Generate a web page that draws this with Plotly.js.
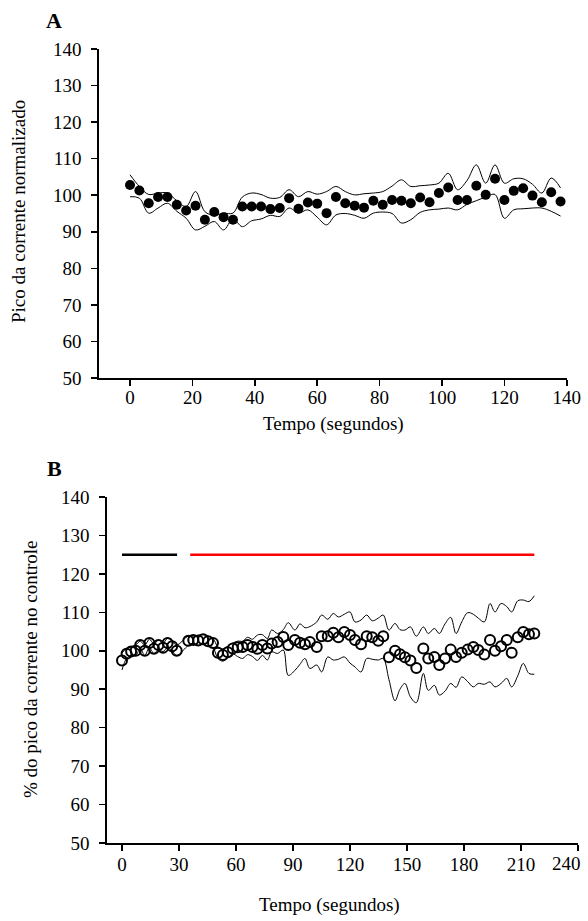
<!DOCTYPE html>
<html>
<head>
<meta charset="utf-8">
<script src="https://cdn.plot.ly/plotly-3.0.1.min.js"></script>
<style>html,body{margin:0;padding:0;background:#fff}#chart{width:588px;height:921px}</style>
</head>
<body>
<div id="chart"></div>
<script>
// ---------- Panel A data ----------
const timeA = [0,3,6,9,12,15,18,21,24,27,30,33,36,39,42,45,48,51,54,57,60,63,66,69,72,75,78,81,84,87,90,93,96,99,102,105,108,111,114,117,120,123,126,129,132,135,138];
const meanA = [102.8,101.3,97.8,99.5,99.5,97.4,95.8,97.1,93.3,95.4,94.0,93.3,96.9,96.9,96.9,96.2,96.5,99.2,96.3,98.0,97.7,95.1,99.5,97.8,97.1,96.6,98.5,97.4,98.7,98.5,97.8,99.4,98.1,100.6,102.1,98.7,98.7,102.6,100.1,104.5,98.7,101.2,101.9,99.9,98.1,100.8,98.3];
const upperA = [105.6,102.4,100.2,100.6,100.6,98.5,96.9,101,95.5,94.5,95.1,95.1,99.5,100.6,100.2,99.2,99.4,101.5,99.6,101,100.3,101,102.4,101,100.1,100.4,100.6,101,102.5,104.2,102.4,102.6,102.8,103.3,106,101.5,104,108.3,103.3,108.3,103.3,104.5,104.5,103,100.6,104.7,102];
const lowerA = [99.6,99.2,95.1,96.5,97.8,95.6,93.7,90.5,91.5,92.8,90.5,93.5,91.4,93,93.5,94.5,94.2,96.5,95.1,96,94,91.9,94.6,95,94.5,93.7,95.1,95.4,95,92.4,93.3,95.3,96,96.2,96.5,96,97.5,98.5,99.5,100.2,93.7,96,96.3,96.5,96.5,95.6,94.3];

// ---------- Panel B data ----------
const timeB = [0,2.4,4.8,7.2,9.6,12,14.4,16.8,19.2,21.6,24,26.4,28.8,
  34.9,37.5,40.1,42.7,45.3,47.9,50.5,53.1,55.7,58.3,60.9,63.5,66.1,68.7,71.3,73.9,76.5,
  78.8,81.9,84.9,87.5,91,93.7,96.3,98.9,102.5,105.1,108.3,111.2,113.9,117,120,122.6,125.8,128.8,131.7,134.9,137.5,
  140.5,143.7,146.3,148.9,151.8,154.9,158.6,161.2,164.4,167,170,173,175.8,178.8,181.9,184.9,187.5,190.7,193.7,196.3,199.5,202.5,205.1,208.3,211.2,214.2,217];
const meanB = [97.5,99.2,99.8,100,101.5,100,102,100.5,101.5,100.8,102,101.2,100,
  102.6,102.8,102.7,103.0,102.5,102.0,99.5,98.9,99.6,100.6,100.9,101.0,101.5,101.0,100.5,101.5,100.6,
  101.9,102.3,103.6,101.5,102.8,102.1,101.7,102.3,101,103.8,103.8,104.7,103.5,104.9,104.1,102.8,101.7,103.8,103.5,102.6,103.8,
  98.3,100,99.1,98.3,97.5,95.5,100.6,98,98.4,96.3,98,100.3,98.4,99.5,100.3,101,100.2,99,102.8,100,101.2,102.8,99.5,103.5,104.9,104.3,104.5];
const upperB = [99.5,100.5,101,101.5,102.5,101.5,103,101.8,102.8,102,103.2,102.5,101.5,
  103.8,103.6,104,104.2,103.8,103.2,101,100.5,101.2,102,102.5,102.5,103.5,103,104.1,104.2,103.2,
  105.4,104.5,105.5,107.3,105.4,107,106,106.3,107.5,109.3,108.2,109.7,108.8,109.5,110.1,107.5,108,109.3,107.8,108.5,109.3,
  105.4,107.1,105.5,105.4,106.2,103.8,106.2,104.5,105.8,104.5,107,108.7,104.5,107.5,109.9,109.5,108.5,107.5,112.3,110.1,112.3,111.5,110.1,113,113.2,112.8,114.3];
const lowerB = [95,98,98.8,98.8,100.5,98.8,100.8,99.3,100.3,99.8,100.8,100,98.8,
  101.4,102,101.4,101.8,101.2,100.8,98,97.3,98.2,99.2,98.5,98,99,98.5,97.5,98.8,97.6,
  99.7,99.3,100.2,93.6,94.9,96.5,98,95.4,96.3,94.5,98.4,97.6,97.8,98.4,96.8,95.8,94.5,98,97.8,97.6,98,
  92.5,87,90,91.5,88,86.5,94.1,89.7,91,88.5,89.5,91.5,90.5,93.2,92,90.6,91.5,91.3,91.9,90.6,91.5,92.8,90.6,93.5,96.7,94.1,93.9];
// Treatment period bars (time span, level)
const controlBarT = [0, 29];
const drugBarT = [35.9, 217];
const barLevel = 125;

const ticksA = [0,20,40,60,80,100,120,140];
const ticksB = [0,30,60,90,120,150,180,210,240];
const tickTextB = ['0','30','60','90','120','150','180','210',''];
const lastTickLabelB = '240';
const ticksY = [50,60,70,80,90,100,110,120,130,140];

const W = 588, H = 921;
const FONT = "Liberation Serif, Times New Roman, serif";
const TICK_SIZE = 19, TITLE_SIZE = 19;

function env(x, y, xa, ya) {
  return {x: x, y: y, xaxis: xa, yaxis: ya, type: 'scatter', mode: 'lines',
    line: {color: '#000', width: 1, shape: 'spline', smoothing: 1}, hoverinfo: 'skip', showlegend: false};
}

const traces = [
  env(timeA, upperA, 'x', 'y'),
  env(timeA, lowerA, 'x', 'y'),
  {x: timeA, y: meanA, xaxis: 'x', yaxis: 'y', type: 'scatter', mode: 'markers',
   marker: {symbol: 'circle', size: 10, color: '#000'}, showlegend: false},
  env(timeB, upperB, 'x2', 'y2'),
  env(timeB, lowerB, 'x2', 'y2'),
  {x: timeB, y: meanB, xaxis: 'x2', yaxis: 'y2', type: 'scatter', mode: 'markers',
   marker: {symbol: 'circle-open', size: 10, color: '#000', line: {width: 2, color: '#000'}}, showlegend: false},
  {x: controlBarT, y: [barLevel, barLevel], xaxis: 'x2', yaxis: 'y2', type: 'scatter', mode: 'lines',
   line: {color: '#000', width: 2.5}, showlegend: false},
  {x: drugBarT, y: [barLevel, barLevel], xaxis: 'x2', yaxis: 'y2', type: 'scatter', mode: 'lines',
   line: {color: '#ff0000', width: 2.5}, showlegend: false}
];

function axisCommon() {
  return {showline: true, linecolor: '#000', linewidth: 1.5, ticks: 'outside', ticklen: 6,
    tickwidth: 1.5, tickcolor: '#000', showgrid: false, zeroline: false, mirror: false,
    tickfont: {family: FONT, size: TICK_SIZE, color: '#000'}, fixedrange: true};
}

const xA = Object.assign(axisCommon(), {domain: [98.8/W, 566.8/W], range: [-10, 140],
  tickvals: ticksA, anchor: 'y', ticklabelstandoff: -4});
const yA = Object.assign(axisCommon(), {domain: [(H-378)/H, (H-49)/H], range: [50, 140],
  tickvals: ticksY, anchor: 'x', ticklabelstandoff: 6});
const xB = Object.assign(axisCommon(), {domain: [106.8/W, 578/W], range: [-8, 240],
  tickvals: ticksB, ticktext: tickTextB, anchor: 'y2', ticklabelstandoff: -2});
const yB = Object.assign(axisCommon(), {domain: [(H-843)/H, (H-497)/H], range: [50, 140],
  tickvals: ticksY, anchor: 'x2', ticklabelstandoff: 6});

function ann(text, px, py, opts) {
  return Object.assign({text: text, xref: 'paper', yref: 'paper', x: px/W, y: 1 - py/H,
    xanchor: 'center', yanchor: 'middle', showarrow: false,
    font: {family: FONT, size: TITLE_SIZE, color: '#000'}}, opts || {});
}

const layout = {
  width: W, height: H, margin: {l: 0, r: 0, t: 0, b: 0},
  paper_bgcolor: '#fff', plot_bgcolor: '#fff', showlegend: false,
  xaxis: xA, yaxis: yA, xaxis2: xB, yaxis2: yB,
  annotations: [
    ann('<b>A</b>', 54, 20, {font: {family: FONT, size: 22, color: '#000'}}),
    ann('<b>B</b>', 54, 468, {font: {family: FONT, size: 22, color: '#000'}}),
    ann('Tempo (segundos)', 333, 424),
    ann('Tempo (segundos)', 329, 905),
    ann(lastTickLabelB, 566, 863, {font: {family: FONT, size: TICK_SIZE, color: '#000'}}),
    ann('Pico da corrente normalizado', 18, 212, {textangle: -90}),
    ann('% do pico da corrente no controle', 30, 670, {textangle: -90})
  ]
};

Plotly.newPlot('chart', traces, layout, {displayModeBar: false, staticPlot: true});
</script>
</body>
</html>
